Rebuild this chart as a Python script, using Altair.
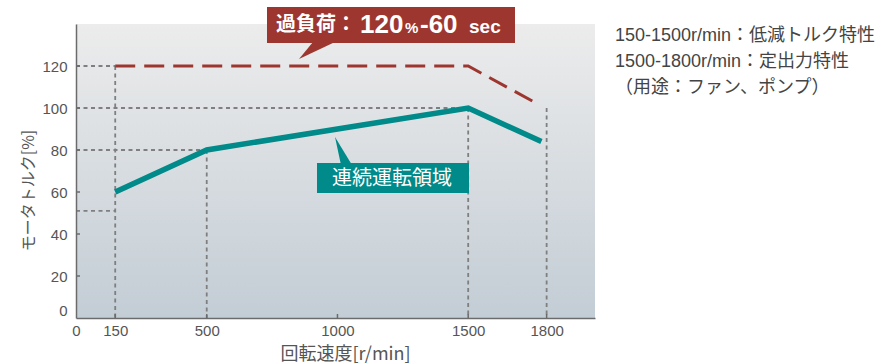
import altair as alt
import pandas as pd

# ---------------- data ----------------
speed_cont = [150, 500, 1500, 1780]
torque_cont = [60, 80, 100, 84]

speed_over = [150, 1500, 1750]
torque_over = [120, 120, 103]

guide_x1 = [0, 150, 0, 1500, 0, 500, 0, 1800]
guide_y1 = [120, 120, 100, 100, 80, 80, 51, 100]
guide_x2 = [150, 150, 1500, 1500, 500, 500, 150, 1800]
guide_y2 = [120, 0, 100, 0, 80, 0, 51, 0]

x_ticks = [0, 150, 500, 1000, 1500, 1800]
y_ticks = [0, 20, 40, 60, 80, 100, 120]

note_lines = ["150-1500r/min：低減トルク特性", "1500-1800r/min：定出力特性", "（用途：ファン、ポンプ）"]
overload_parts = ["過負荷：", "120", "%", "-60", "sec"]
continuous_label = ["連続運転領域"]
x_title = "回転速度[r/min]"
y_title = "モータトルク[%]"

# ---------------- style ----------------
W, H = 519, 294
RED = "#9e3630"
TEAL = "#008a89"
GREY = "#7f7f7f"
AXIS = "#6b6b6b"
LATIN = "Liberation Sans"
CJK = "Noto Sans CJK JP"
MIX = "Liberation Sans, Noto Sans CJK JP"

xs = alt.Scale(domain=[0, 1985], nice=False, zero=False)
ys = alt.Scale(domain=[0, 140], nice=False, zero=False)

x_axis = alt.Axis(values=x_ticks, title=x_title, format="d", grid=False, ticks=False, tickSize=0,
                  labelFont=LATIN, labelFontSize=15, labelColor="#555", labelPadding=5,
                  labelFlush=False, labelOverlap=False,
                  domainColor=AXIS, domainWidth=1.5, zindex=1,
                  titleFont=CJK, titleFontSize=18, titleFontWeight="normal", titleColor="#555",
                  titleX=269, titleY=36, titleAlign="center", titleBaseline="middle")
y_axis = alt.Axis(values=y_ticks, title=y_title, format="d", grid=False, ticks=False, tickSize=0,
                  labelFont=LATIN, labelFontSize=15, labelColor="#555", labelPadding=9,
                  labelFlush=True, labelOverlap=False,
                  domainColor=AXIS, domainWidth=1.5, zindex=1,
                  titleFont=CJK, titleFontSize=16, titleFontWeight="normal", titleColor="#555",
                  titleX=-48, titleY=166, titleAlign="center", titleBaseline="middle", titleAngle=270)

one = pd.DataFrame({"k": [0]})

# background gradient
bg = alt.Chart(one).mark_rect(
    color=alt.LinearGradient(gradient="linear",
                             stops=[alt.GradientStop(offset=0, color="#ececec"),
                                    alt.GradientStop(offset=1, color="#c3cdd5")],
                             x1=0, x2=0, y1=0, y2=1)
).encode(x=alt.value(0), x2=alt.value(W), y=alt.value(0), y2=alt.value(H))

guides_df = pd.DataFrame({"x": guide_x1, "y": guide_y1, "x2": guide_x2, "y2": guide_y2})
guides = alt.Chart(guides_df).mark_rule(color=GREY, strokeWidth=1.8, strokeDash=[4, 3.5]).encode(
    x=alt.X("x:Q", scale=xs, axis=x_axis), x2="x2:Q",
    y=alt.Y("y:Q", scale=ys, axis=y_axis), y2="y2:Q")

xt = alt.Chart(pd.DataFrame({"x": x_ticks[1:]})).mark_rule(color=AXIS, strokeWidth=1.5).encode(
    x=alt.X("x:Q", scale=xs, axis=x_axis), y=alt.value(H), y2=alt.value(H - 4))
yt = alt.Chart(pd.DataFrame({"y": y_ticks[1:]})).mark_rule(color=AXIS, strokeWidth=1.5).encode(
    y=alt.Y("y:Q", scale=ys, axis=y_axis), x=alt.value(0), x2=alt.value(4))

over_df = pd.DataFrame({"x": speed_over, "y": torque_over})
over = alt.Chart(over_df).mark_line(color=RED, strokeWidth=3, strokeDash=[20, 9]).encode(
    x=alt.X("x:Q", scale=xs, axis=x_axis), y=alt.Y("y:Q", scale=ys, axis=y_axis))

cont_df = pd.DataFrame({"x": speed_cont, "y": torque_cont})
cont = alt.Chart(cont_df).mark_line(color=TEAL, strokeWidth=5.5, strokeJoin="miter", strokeCap="butt").encode(
    x=alt.X("x:Q", scale=xs, axis=x_axis), y=alt.Y("y:Q", scale=ys, axis=y_axis))

# overload callout
red_box = alt.Chart(one).mark_rect(color=RED).encode(
    x=alt.value(191), x2=alt.value(439), y=alt.value(-17), y2=alt.value(19))
red_tri = alt.Chart(one).mark_point(shape="M0,-1L22,-1L-14,16Z", size=4, filled=True,
                                     color=RED, opacity=1, strokeWidth=0).encode(
    x=alt.value(237), y=alt.value(19))
part_x = [200, 284, 329, 344, 393]
part_y = [7, 9, 9, 9, 9]
part_size = [20, 26, 15, 26, 19]
part_font = [CJK, LATIN, LATIN, LATIN, LATIN]
red_texts = []
for i, t in enumerate(overload_parts):
    red_texts.append(
        alt.Chart(pd.DataFrame({"t": [t]})).mark_text(
            align="left", baseline="alphabetic", color="white", fontWeight="bold",
            font=part_font[i], fontSize=part_size[i]
        ).encode(text="t:N", x=alt.value(part_x[i]), y=alt.value(part_y[i])))

# continuous callout
teal_box = alt.Chart(one).mark_rect(color=TEAL).encode(
    x=alt.value(241), x2=alt.value(393), y=alt.value(139), y2=alt.value(169))
teal_tri = alt.Chart(one).mark_point(shape="M0,1L11,1L-6,-27Z", size=4, filled=True,
                                      color=TEAL, opacity=1, strokeWidth=0).encode(
    x=alt.value(265), y=alt.value(140))
teal_text = alt.Chart(pd.DataFrame({"t": continuous_label})).mark_text(
    align="center", baseline="middle", color="white", font=CJK, fontSize=20
).encode(text="t:N", x=alt.value(316), y=alt.value(155))

# right-side notes
note_y = [12, 38, 64]
notes = []
for i, t in enumerate(note_lines):
    notes.append(alt.Chart(pd.DataFrame({"t": [t]})).mark_text(
        align="left", baseline="middle", color="#444", font=MIX, fontSize=18
    ).encode(text="t:N", x=alt.value(539), y=alt.value(note_y[i])))

chart = alt.layer(bg, guides, xt, yt, over, cont, red_box, red_tri, *red_texts,
                  teal_box, teal_tri, teal_text, *notes).properties(
    width=W, height=H,
    autosize=alt.AutoSizeParams(type="none"),
    padding={"left": 76, "top": 24, "right": 292, "bottom": 46},
    background="white",
).configure_view(stroke=None)

chart.save("out.html", embed_options={"renderer": "svg", "actions": False})
